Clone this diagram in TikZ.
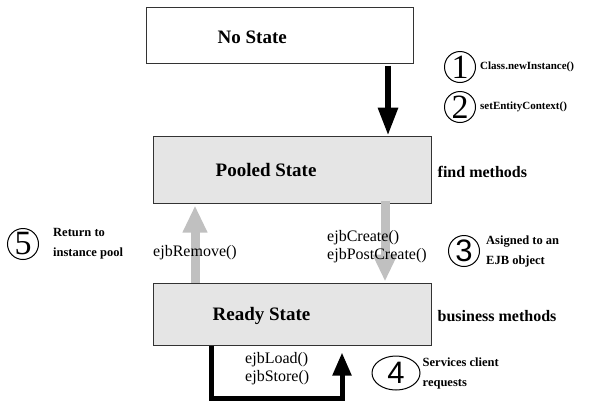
\documentclass[tikz,border=0pt]{standalone}
\usepackage{fontspec}
\setmainfont{Liberation Serif}
\newfontfamily\digitsans{Liberation Sans}
\usetikzlibrary{arrows.meta,positioning,shapes.geometric}
\definecolor{boxgray}{RGB}{229,229,229}
\definecolor{arrowgray}{RGB}{192,192,192}
\tikzstyle{statebox} = [draw=black!80, line width=1pt, inner sep=0pt]
\tikzstyle{statename} = [font=\fontsize{19}{22}\selectfont\bfseries, anchor=west, inner sep=0pt]
\tikzstyle{method} = [font=\fontsize{16}{18}\selectfont, align=left, inner sep=0pt]
\tikzstyle{sidenote} = [font=\fontsize{16}{18}\selectfont\bfseries, anchor=west, inner sep=0pt]
\tikzstyle{smallnote} = [font=\fontsize{12.5}{20}\selectfont\bfseries, anchor=west, align=left, inner sep=0pt]
\tikzstyle{stepnum} = [draw, circle, line width=1pt, minimum size=31pt, inner sep=0pt, font=\fontsize{34}{34}\selectfont]
\tikzstyle{grayarrow} = [arrowgray, line width=9pt, -{Triangle[length=27pt,width=23pt]}]
\tikzstyle{blackarrow} = [black, line width=6pt, -{Triangle[length=28pt,width=19pt]}]

\begin{document}
\begin{tikzpicture}[x=1pt, y=-1pt]
    \useasboundingbox (0,0) rectangle (599,402);

    % States
    \node[statebox, fill=white, minimum width=267pt, minimum height=56pt] (nostate) at (279.5,35) {};
    \node[statebox, fill=boxgray, minimum width=278pt, minimum height=67pt] (pooled) at (292,169.5) {};
    \node[statebox, fill=boxgray, minimum width=278pt, minimum height=62pt] (ready) at (292,314) {};
    \node[statename] (nolbl) at ([xshift=72pt,yshift=-2pt]nostate.west) {No State};
    \node[statename] (pooledlbl) at ([xshift=63pt,yshift=-0.5pt]pooled.west) {Pooled State};
    \node[statename] (readylbl) at ([xshift=60pt,yshift=-2pt]ready.west) {Ready State};

    % Transitions
    \draw[blackarrow] ([xshift=108.5pt,yshift=-2pt]nostate.south) -- ([xshift=96pt]pooled.north);
    \draw[grayarrow] ([xshift=-97pt]ready.north) -- ([xshift=-97pt,yshift=-2pt]pooled.south);
    \draw[grayarrow] ([xshift=93pt,yshift=3pt]pooled.south) -- ([xshift=93pt,yshift=1pt]ready.north);
    \draw[black, line width=5pt, line join=miter, -{Triangle[length=23pt,width=18pt]}]
        ([xshift=-81pt]ready.south) -- ++(0,53) -| ([xshift=50pt,yshift=-7pt]ready.south);

    % Method labels
    \node[method] (remove) at (195,253) {ejbRemove()};
    \node[method, anchor=west] (create) at (327,246.5) {ejbCreate()\\ejbPostCreate()};
    \node[method, anchor=west] (loadstore) at (245,368.5) {ejbLoad()\\ejbStore()};
    \node[sidenote] (find) at ([xshift=6pt,yshift=-2pt]pooled.east) {find methods};
    \node[sidenote] (business) at ([xshift=6pt,yshift=-2pt]ready.east) {business methods};

    % Numbered steps
    \node[stepnum] (one) at (460,67) {1};
    \node[stepnum] (two) at (460,107) {2};
    \node[stepnum, font=\digitsans\fontsize{31}{31}\selectfont] (three) at (464,251) {3};
    \node[stepnum, ellipse, minimum width=48pt, minimum height=34pt, font=\digitsans\fontsize{31}{31}\selectfont] (four) at (396,373) {4};
    \node[stepnum] (five) at (23,244) {5};
    \node[smallnote, font=\fontsize{11}{20}\selectfont\bfseries] (onetxt) at ([xshift=4pt]one.east) {Class.newInstance()};
    \node[smallnote, font=\fontsize{11}{20}\selectfont\bfseries] (twotxt) at ([xshift=4pt]two.east) {setEntityContext()};
    \node[smallnote] (threetxt) at ([xshift=6pt]three.east) {Asigned to an\\EJB object};
    \node[smallnote] (fourtxt) at ([xshift=2pt]four.east) {Services client\\requests};
    \node[smallnote] (fivetxt) at ([xshift=14pt]five.east) {Return to\\instance pool};
\end{tikzpicture}
\end{document}
